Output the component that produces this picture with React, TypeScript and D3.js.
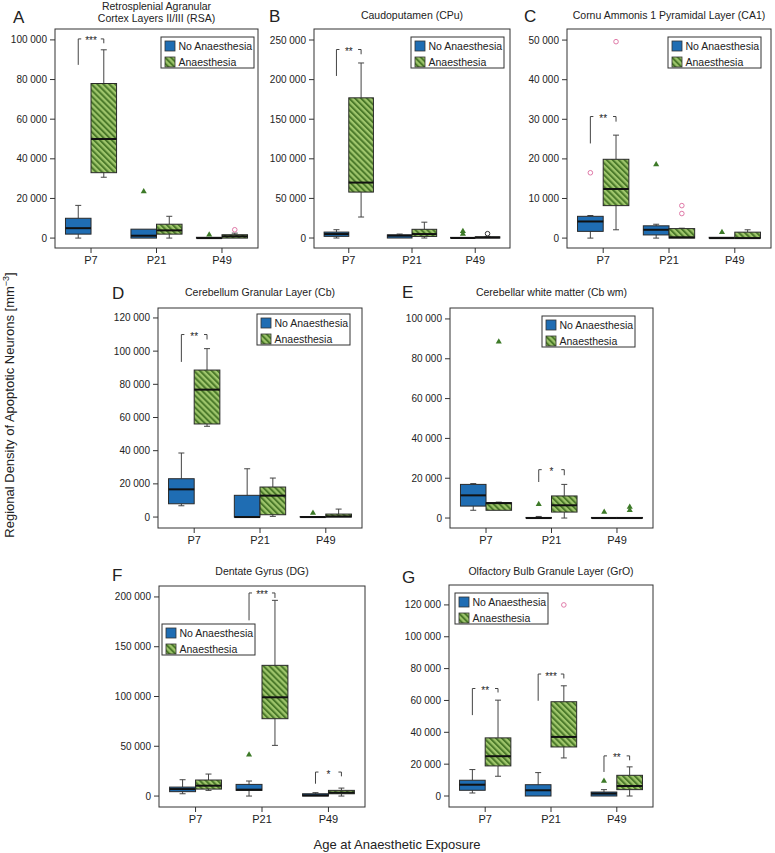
import React from "react";
import * as d3 from "d3";

// ---------- DATA ----------
const groups = ["P7", "P21", "P49"];
const seriesNames = ["No Anaesthesia", "Anaesthesia"];
const panelLetters = ["A", "B", "C", "D", "E", "F", "G"];
const panelTitles = [
  ["Retrosplenial Agranular", "Cortex Layers II/III (RSA)"],
  ["Caudoputamen (CPu)"],
  ["Cornu Ammonis 1 Pyramidal Layer (CA1)"],
  ["Cerebellum Granular Layer (Cb)"],
  ["Cerebellar white matter (Cb wm)"],
  ["Dentate Gyrus (DG)"],
  ["Olfactory Bulb Granule Layer (GrO)"],
];
const yAxisLabel = "Regional Density of Apoptotic Neurons [mm";
const xAxisLabel = "Age at Anaesthetic Exposure";

// box stats per group: [lower whisker, Q1, median, Q3, upper whisker]
const rsaNo = [[0, 2000, 5000, 10000, 16500], [0, 0, 1200, 4500, 4500], [0, 0, 0, 400, 400]];
const rsaAn = [[30700, 33000, 50000, 78000, 95000], [0, 2000, 3900, 7000, 11000], [0, 0, 900, 1700, 2500]];
const cpuNo = [[0, 2100, 5000, 7500, 10500], [0, 0, 3000, 4000, 5000], [0, 0, 0, 800, 800]];
const cpuAn = [[26500, 58000, 70000, 177000, 221000], [0, 2000, 5000, 11000, 20000], [0, 0, 700, 1500, 2000]];
const ca1No = [[0, 1700, 4200, 5500, 5700], [0, 800, 2100, 3100, 3500], [0, 0, 0, 200, 200]];
const ca1An = [[2100, 8200, 12400, 19900, 26000], [0, 0, 200, 2400, 2500], [0, 0, 0, 1500, 2100]];
const cbNo = [[6800, 8000, 16700, 23100, 38600], [0, 0, 0, 13100, 29100], [0, 0, 0, 300, 300]];
const cbAn = [[54700, 56100, 76800, 88600, 101500], [400, 1400, 12900, 18100, 23500], [0, 0, 400, 1800, 4800]];
const cbwmNo = [[3900, 6000, 11400, 16900, 17300], [0, 0, 0, 300, 800], [0, 0, 0, 300, 300]];
const cbwmAn = [[3900, 3900, 7500, 7700, 8000], [0, 3000, 6400, 11100, 16900], [0, 0, 0, 300, 300]];
const dgNo = [[2300, 4400, 7000, 9000, 16400], [0, 5700, 6400, 11700, 15100], [0, 0, 700, 2300, 3400]];
const dgAn = [[5700, 7000, 10400, 16100, 22100], [50900, 77700, 99200, 131300, 196600], [0, 2300, 3400, 5700, 8000]];
const groNo = [[1900, 3600, 7100, 9900, 16600], [0, 0, 3600, 7100, 14700], [0, 0, 1500, 2500, 4000]];
const groAn = [[12400, 18900, 25000, 36500, 60200], [23900, 30800, 37100, 59200, 69200], [0, 4000, 6300, 13000, 18300]];

// outliers: [group index, series index, value, kind]
const rsaOut = [[1, 0, 23500, "extreme"], [2, 0, 1700, "extreme"], [2, 1, 4200, "outlier"]];
const cpuOut = [[2, 0, 8500, "extreme"], [2, 0, 5000, "extreme"], [2, 1, 5500, "outlierDark"]];
const ca1Out = [[0, 0, 16500, "outlier"], [0, 1, 49600, "outlier"], [1, 0, 18600, "extreme"], [1, 1, 8200, "outlier"], [1, 1, 6200, "outlier"], [2, 0, 1500, "extreme"]];
const cbOut = [[2, 0, 2400, "extreme"]];
const cbwmOut = [[0, 1, 88600, "extreme"], [1, 0, 6900, "extreme"], [2, 0, 3000, "extreme"], [2, 1, 5500, "extreme"], [2, 1, 3900, "extreme"]];
const dgOut = [[1, 0, 41500, "extreme"]];
const groOut = [[1, 1, 120000, "outlier"], [2, 0, 9400, "extreme"]];

// significance brackets: [group index, top, left leg end, right leg end, label]
const rsaSig = [[0, 100500, 87400, 98300, "***"]];
const cpuSig = [[0, 238000, 204600, 232000, "**"]];
const ca1Sig = [[0, 30700, 23900, 29400, "**"]];
const cbSig = [[0, 110000, 93500, 107000, "**"]];
const cbwmSig = [[1, 24300, 18100, 21500, "*"]];
const dgSig = [[1, 204000, 176500, 199000, "***"], [2, 24100, 12400, 19800, "*"]];
const groSig = [[0, 67500, 50800, 65000, "**"], [1, 76600, 59800, 73800, "***"], [2, 25200, 15100, 22400, "**"]];

// y ticks
const rsaTicks = [0, 20000, 40000, 60000, 80000, 100000];
const cpuTicks = [0, 50000, 100000, 150000, 200000, 250000];
const ca1Ticks = [0, 10000, 20000, 30000, 40000, 50000];
const cbTicks = [0, 20000, 40000, 60000, 80000, 100000, 120000];
const cbwmTicks = [0, 20000, 40000, 60000, 80000, 100000];
const dgTicks = [0, 50000, 100000, 150000, 200000];
const groTicks = [0, 20000, 40000, 60000, 80000, 100000, 120000];

const yDomains = [
  [-5000, 105500],
  [-12600, 263900],
  [-2500, 52800],
  [-6600, 126000],
  [-5000, 105500],
  [-11000, 211000],
  [-6900, 132500],
];

const panelData = [
  { no: rsaNo, an: rsaAn, out: rsaOut, sig: rsaSig, ticks: rsaTicks },
  { no: cpuNo, an: cpuAn, out: cpuOut, sig: cpuSig, ticks: cpuTicks },
  { no: ca1No, an: ca1An, out: ca1Out, sig: ca1Sig, ticks: ca1Ticks },
  { no: cbNo, an: cbAn, out: cbOut, sig: cbSig, ticks: cbTicks },
  { no: cbwmNo, an: cbwmAn, out: cbwmOut, sig: cbwmSig, ticks: cbwmTicks },
  { no: dgNo, an: dgAn, out: dgOut, sig: dgSig, ticks: dgTicks },
  { no: groNo, an: groAn, out: groOut, sig: groSig, ticks: groTicks },
];

// ---------- LAYOUT ----------
const W = 775, H = 853;
const layout = [
  { x0: 55, y0: 29, x1: 258, y1: 248, letter: [13, 23], titleY: 10, legend: [161, 37] },
  { x0: 314, y0: 29, x1: 510, y1: 248, letter: [269, 22], titleY: 19, legend: [411, 37] },
  { x0: 567, y0: 29, x1: 771, y1: 248, letter: [524, 22], titleY: 19, legend: [668, 37] },
  { x0: 158, y0: 308, x1: 362, y1: 528, letter: [112, 299], titleY: 296, legend: [257, 314] },
  { x0: 450, y0: 308, x1: 653, y1: 528, letter: [402, 298], titleY: 296, legend: [542, 316] },
  { x0: 159, y0: 586, x1: 365, y1: 807, letter: [112, 581], titleY: 575, legend: [162, 624] },
  { x0: 449, y0: 585, x1: 653, y1: 807, letter: [402, 583], titleY: 575, legend: [455, 593] },
];

const BLUE = "#1f6db3";
const GREEN_LIGHT = "#9fc66c";
const GREEN_DARK = "#4b7a2a";
const TEXT = "#222";
const FONT = "'Liberation Sans', Arial, Helvetica, sans-serif";

function fmt(v: number) {
  return v === 0 ? "0" : `${Math.round(v / 1000)} 000`;
}

function Panel({ idx }: { idx: number }) {
  const L = layout[idx];
  const D = panelData[idx];
  const x = d3.scaleBand().domain(groups).range([L.x0, L.x1]).paddingInner(0).paddingOuter(0.05);
  const y = d3.scaleLinear().domain(yDomains[idx]).range([L.y1, L.y0]);
  const bw = x.bandwidth() * 0.39;
  const cap = 6;
  const center = (g: number) => (x(groups[g]) as number) + x.bandwidth() / 2;
  const boxCx = (g: number, s: number) => (s === 0 ? center(g) - bw / 2 : center(g) + bw / 2);
  const tri = d3.symbol().type(d3.symbolTriangle).size(16)();
  const title = panelTitles[idx];

  const boxes: any[] = [];
  [D.no, D.an].forEach((series, s) => {
    series.forEach((st, g) => {
      const [lo, q1, med, q3, hi] = st;
      const cx = boxCx(g, s);
      const bx = s === 0 ? center(g) - bw : center(g);
      boxes.push(
        <g key={`b${s}${g}`}>
          {hi > q3 && <line x1={cx} x2={cx} y1={y(q3)} y2={y(hi)} stroke="#444" strokeWidth={1} />}
          {hi > q3 && <line x1={cx - cap / 2} x2={cx + cap / 2} y1={y(hi)} y2={y(hi)} stroke="#444" strokeWidth={1} />}
          {lo < q1 && <line x1={cx} x2={cx} y1={y(q1)} y2={y(lo)} stroke="#444" strokeWidth={1} />}
          {lo < q1 && <line x1={cx - cap / 2} x2={cx + cap / 2} y1={y(lo)} y2={y(lo)} stroke="#444" strokeWidth={1} />}
          <rect
            x={bx}
            y={y(q3)}
            width={bw}
            height={Math.max(0.5, y(q1) - y(q3))}
            fill={s === 0 ? BLUE : "url(#hatch)"}
            stroke="#2a2a2a"
            strokeWidth={1}
          />
          <line x1={bx} x2={bx + bw} y1={y(med)} y2={y(med)} stroke="#111" strokeWidth={2} />
        </g>
      );
    });
  });

  return (
    <g>
      {/* title and letter */}
      <text x={L.letter[0]} y={L.letter[1]} fontSize={17} fill={TEXT}>{panelLetters[idx]}</text>
      {title.map((t, i) => (
        <text key={i} x={(L.x0 + L.x1) / 2} y={L.titleY + i * 11.5} fontSize={10.5} textAnchor="middle" fill={TEXT}>{t}</text>
      ))}
      {/* frame */}
      <rect x={L.x0} y={L.y0} width={L.x1 - L.x0} height={L.y1 - L.y0} fill="white" stroke="#333" strokeWidth={1} />
      {/* y ticks */}
      {D.ticks.map((t) => (
        <g key={t}>
          <line x1={L.x0 - 5} x2={L.x0} y1={y(t)} y2={y(t)} stroke="#333" strokeWidth={1} />
          <text x={L.x0 - 8} y={y(t) + 3.5} fontSize={10} textAnchor="end" fill={TEXT}>{fmt(t)}</text>
        </g>
      ))}
      {/* x ticks */}
      {groups.map((gname, g) => (
        <g key={gname}>
          <line x1={center(g)} x2={center(g)} y1={L.y1} y2={L.y1 + 5} stroke="#333" strokeWidth={1} />
          <text x={center(g)} y={L.y1 + 15.5} fontSize={11} textAnchor="middle" fill={TEXT}>{gname}</text>
        </g>
      ))}
      {boxes}
      {/* outliers */}
      {D.out.map((o: any, i: number) => {
        const cx = boxCx(o[0], o[1]);
        const cy = y(o[2]);
        if (o[3] === "extreme") {
          return <path key={i} d={tri as string} transform={`translate(${cx},${cy})`} fill="#3d7a28" />;
        }
        return (
          <circle key={i} cx={cx} cy={cy} r={2.3} fill="white" stroke={o[3] === "outlierDark" ? "#333" : "#e07aa8"} strokeWidth={1} />
        );
      })}
      {/* significance brackets */}
      {D.sig.map((b: any, i: number) => {
        const xl = boxCx(b[0], 0);
        const xr = boxCx(b[0], 1);
        const yt = y(b[1]);
        return (
          <g key={i} stroke="#444" strokeWidth={1} fill="none">
            <path d={`M${xl},${y(b[2])}V${yt}H${xl + 3}`} />
            <path d={`M${xr - 3},${yt}H${xr}V${y(b[3])}`} />
            <text x={(xl + xr) / 2} y={yt + 5.5} fontSize={10} textAnchor="middle" fill={TEXT} stroke="none">{b[4]}</text>
          </g>
        );
      })}
      {/* legend */}
      <g transform={`translate(${L.legend[0]},${L.legend[1]})`}>
        <rect x={0} y={0} width={93} height={31} fill="white" stroke="#333" strokeWidth={1} />
        {seriesNames.map((n, s) => (
          <g key={n}>
            <rect x={4} y={4 + s * 16} width={10} height={10} fill={s === 0 ? BLUE : "url(#hatch)"} stroke="#333" strokeWidth={0.8} />
            <text x={17.5} y={13 + s * 16} fontSize={10.5} fill={TEXT}>{n}</text>
          </g>
        ))}
      </g>
    </g>
  );
}

export default function App() {
  return (
    <svg width={W} height={H} style={{ position: "absolute", left: 0, top: 0, background: "#fff" }} fontFamily={FONT}>
      <defs>
        <pattern id="hatch" patternUnits="userSpaceOnUse" width={4.2} height={4.2} patternTransform="rotate(-45)">
          <rect width={4.2} height={4.2} fill={GREEN_LIGHT} />
          <rect width={2} height={4.2} fill={GREEN_DARK} />
        </pattern>
      </defs>
      <rect width={W} height={H} fill="white" />
      {panelLetters.map((_, i) => (
        <Panel key={i} idx={i} />
      ))}
      <text transform={`translate(14,405) rotate(-90)`} fontSize={13} textAnchor="middle" fill={TEXT}>
        {yAxisLabel}
        <tspan fontSize={9} dy={-5}>−3</tspan>
        <tspan dy={5}>]</tspan>
      </text>
      <text x={397} y={849} fontSize={13} textAnchor="middle" fill={TEXT}>{xAxisLabel}</text>
    </svg>
  );
}
